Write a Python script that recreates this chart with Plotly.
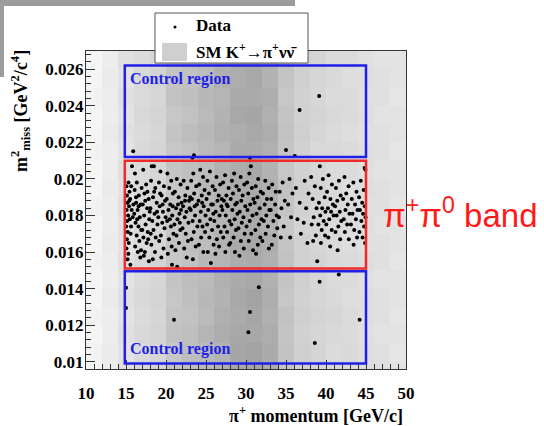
import plotly.graph_objects as go

# ---- SM K+ -> pi+ nu nubar expectation (2 GeV/c x 0.001 GeV^2/c^4 bins) ----
p_edges = [10, 12, 14, 16, 18, 20, 22, 24, 26, 28, 30, 32, 34, 36, 38, 40, 42, 44, 46, 48, 50]
m2_edges = [0.009, 0.010, 0.011, 0.012, 0.013, 0.014, 0.015, 0.016, 0.017, 0.018,
            0.019, 0.020, 0.021, 0.022, 0.023, 0.024, 0.025, 0.026, 0.027]
sm_counts = [
    [4, 7, 12, 15, 17, 23, 25, 28, 31, 34, 35, 32, 23, 18, 16, 15, 14, 13, 12, 11],
    [5, 8, 11, 14, 16, 22, 26, 27, 30, 35, 36, 33, 24, 19, 17, 14, 15, 13, 12, 10],
    [4, 7, 12, 15, 17, 24, 25, 29, 32, 34, 34, 32, 23, 18, 16, 15, 14, 12, 11, 11],
    [5, 7, 11, 14, 16, 23, 24, 27, 31, 33, 35, 31, 24, 19, 17, 16, 14, 13, 12, 10],
    [4, 8, 12, 15, 17, 22, 25, 28, 30, 34, 36, 32, 22, 18, 16, 15, 13, 13, 12, 11],
    [4, 7, 11, 14, 16, 23, 26, 27, 31, 33, 34, 31, 23, 19, 16, 14, 14, 12, 11, 11],
    [5, 7, 12, 15, 17, 22, 24, 28, 29, 32, 33, 31, 24, 18, 17, 15, 14, 13, 12, 10],
    [4, 8, 11, 14, 16, 23, 25, 26, 30, 33, 34, 32, 23, 18, 16, 15, 13, 12, 12, 11],
    [4, 7, 11, 15, 16, 22, 24, 27, 29, 32, 33, 30, 22, 17, 16, 14, 14, 13, 11, 11],
    [5, 7, 12, 14, 17, 23, 25, 27, 30, 32, 34, 31, 23, 18, 16, 15, 14, 12, 12, 10],
    [4, 8, 11, 15, 16, 22, 24, 28, 29, 33, 33, 31, 24, 19, 17, 15, 13, 13, 12, 11],
    [4, 7, 12, 14, 16, 23, 25, 26, 30, 32, 34, 30, 22, 18, 16, 14, 14, 12, 11, 11],
    [5, 7, 11, 15, 17, 22, 24, 27, 29, 33, 33, 31, 23, 18, 15, 15, 14, 13, 12, 10],
    [4, 8, 12, 14, 16, 23, 26, 28, 31, 32, 34, 32, 24, 19, 16, 14, 13, 12, 12, 11],
    [4, 7, 11, 15, 17, 22, 24, 27, 30, 34, 35, 31, 23, 18, 17, 15, 14, 13, 11, 11],
    [5, 7, 12, 14, 16, 24, 25, 28, 29, 33, 33, 32, 22, 18, 16, 14, 14, 12, 12, 10],
    [4, 8, 11, 15, 17, 23, 24, 26, 31, 32, 34, 30, 23, 19, 16, 15, 13, 13, 12, 11],
    [4, 7, 12, 14, 16, 22, 25, 27, 30, 33, 33, 31, 24, 18, 17, 14, 14, 12, 11, 11],
]

# ---- Data events: pi+ momentum [GeV/c] and m2_miss [GeV^2/c^4] ----
data_p = [
    # upper control region
    39.15, 36.7, 15.9, 35.0, 36.1, 23.5, 23.3, 30.5,
    # lower control region
    15.0, 15.0, 21.0, 31.6, 30.5, 30.3, 39.2, 41.6, 44.2, 38.6,
    # pi+ pi0 band
    15.05, 15.12, 15.31, 15.18, 15.44, 15.08, 15.27, 15.52, 15.15, 15.38, 15.71, 15.02, 15.22, 15.47,
    15.63, 15.11, 15.35, 15.58, 15.06, 15.29, 15.84, 15.41, 15.19, 15.66, 15.93, 15.55, 15.75,
    16.12, 16.35, 16.08, 16.61, 16.27, 16.84, 16.45, 16.03, 16.72, 16.19, 16.56, 16.91, 16.33, 16.67,
    16.14, 16.48, 16.79, 16.25, 16.95, 16.40, 16.58, 16.88,
    17.15, 17.52, 17.31, 17.83, 17.09, 17.64, 17.27, 17.91, 17.45, 17.72, 17.18, 17.58, 17.36, 17.86,
    17.04, 17.68, 17.41, 17.97, 17.23, 17.77,
    18.22, 18.49, 18.13, 18.66, 18.38, 18.84, 18.05, 18.57, 18.29, 18.93, 18.44, 18.71, 18.17, 18.62,
    18.35, 18.88, 18.52, 18.09,
    19.31, 19.12, 19.74, 19.45, 19.88, 19.21, 19.62, 19.04, 19.53, 19.81, 19.36, 19.15, 19.69, 19.42,
    19.95, 19.27, 19.58,
    20.18, 20.66, 20.41, 20.87, 20.09, 20.54, 20.31, 20.78, 20.14, 20.62, 20.93, 20.37, 20.71, 20.23,
    20.75, 20.48, 20.85,
    21.35, 21.82, 21.11, 21.57, 21.94, 21.26, 21.68, 21.43, 21.05, 21.79, 21.31, 21.62, 21.18, 21.40,
    21.88, 21.50, 21.73,
    22.21, 22.68, 22.42, 22.89, 22.13, 22.55, 22.34, 22.81, 22.06, 22.47, 22.74, 22.27, 22.59, 22.95,
    22.38,
    23.41, 23.15, 23.77, 23.52, 23.24, 23.86, 23.09, 23.63, 23.33, 23.92, 23.48, 23.19, 23.71, 23.36,
    23.58, 23.02,
    24.28, 24.63, 24.15, 24.82, 24.47, 24.06, 24.71, 24.35, 24.94, 24.21, 24.56, 24.88, 24.39, 24.12,
    24.67, 24.52,
    25.49, 25.18, 25.83, 25.37, 25.07, 25.66, 25.28, 25.91, 25.55, 25.14, 25.76, 25.42, 25.95, 25.23,
    25.61, 25.86,
    26.31, 26.77, 26.12, 26.58, 26.43, 26.92, 26.21, 26.69, 26.04, 26.51, 26.85, 26.36, 26.63, 26.18,
    26.97,
    27.38, 27.13, 27.82, 27.55, 27.24, 27.71, 27.05, 27.47, 27.93, 27.31, 27.64, 27.16, 27.88, 27.42,
    27.59,
    28.52, 28.24, 28.81, 28.37, 28.09, 28.66, 28.29, 28.93, 28.58, 28.16, 28.74, 28.45, 28.04, 28.62,
    28.87,
    29.33, 29.79, 29.12, 29.58, 29.41, 29.91, 29.22, 29.68, 29.47, 29.05, 29.83, 29.36, 29.72, 29.18,
    30.61, 30.42, 30.14, 30.73, 30.28, 30.92, 30.53, 30.19, 30.81, 30.46, 30.07, 30.66, 30.34, 30.88,
    31.52, 31.21, 31.84, 31.43, 31.08, 31.71, 31.32, 31.94, 31.61, 31.17, 31.79, 31.48, 31.26,
    32.41, 32.83, 32.12, 32.62, 32.33, 32.91, 32.54, 32.22, 32.74, 32.45, 32.05, 32.86,
    33.28, 33.72, 33.16, 33.64, 33.09, 33.83, 33.42, 33.91, 33.54, 33.23,
    34.58, 34.21, 34.84, 34.43, 34.12, 34.71, 34.35,
    35.44, 35.81, 35.27, 35.63, 35.52,
    36.24, 36.71, 36.43, 36.86,
    37.33, 37.82, 37.51, 37.22, 37.68,
    38.14, 38.61, 38.33, 38.82, 38.47, 38.21, 38.73, 38.39, 38.91,
    39.23, 39.61, 39.34, 39.84, 39.12, 39.52, 39.93, 39.28, 39.71, 39.05, 39.46, 39.88, 39.37,
    40.32, 40.74, 40.13, 40.55, 40.86, 40.24, 40.63, 40.95, 40.41, 40.04, 40.71, 40.29, 40.52,
    41.62, 41.24, 41.83, 41.41, 41.13, 41.72, 41.33, 41.91, 41.54, 41.19, 41.77, 41.45,
    42.31, 42.82, 42.53, 42.14, 42.72, 42.43, 42.93, 42.22, 42.64, 42.36, 42.85,
    43.42, 43.81, 43.22, 43.63, 43.94, 43.31, 43.74, 43.12, 43.53, 43.88, 43.45,
    44.82, 44.93, 44.34, 44.71, 44.13, 44.52, 44.85, 44.24, 44.63, 44.94, 44.42, 44.76, 44.18, 44.57,
    44.88,
]
data_m2 = [
    0.02454, 0.02377, 0.02152, 0.02158, 0.02125, 0.02129, 0.02116, 0.02116,
    0.01404, 0.01294, 0.01230, 0.01407, 0.01272, 0.01161, 0.01438, 0.01477, 0.01230, 0.01102,
    0.0196, 0.0191, 0.0198, 0.0187, 0.0193, 0.0183, 0.0180, 0.0189, 0.0177, 0.0185, 0.0183, 0.0174, 0.0171, 0.0178,
    0.0174, 0.0167, 0.0165, 0.0170, 0.0162, 0.0159, 0.0179, 0.0188, 0.0156, 0.0196, 0.0186, 0.0153, 0.0207,
    0.0203, 0.0198, 0.0194, 0.0191, 0.0187, 0.0186, 0.0183, 0.0181, 0.0179, 0.0176, 0.0174, 0.0172, 0.0169, 0.0166,
    0.0163, 0.0160, 0.0157, 0.0190, 0.0195, 0.0178, 0.0185, 0.0161,
    0.0205, 0.0197, 0.0192, 0.0189, 0.0186, 0.0184, 0.0180, 0.0178, 0.0175, 0.0171, 0.0168, 0.0165, 0.0160, 0.0155,
    0.0172, 0.0193, 0.0188, 0.0182, 0.0158, 0.0167,
    0.0207, 0.0207, 0.0199, 0.0195, 0.0190, 0.0187, 0.0184, 0.0181, 0.0177, 0.0175, 0.0172, 0.0168, 0.0164, 0.0160,
    0.0156, 0.0182, 0.0193, 0.0170,
    0.0204, 0.0198, 0.0196, 0.0191, 0.0188, 0.0185, 0.0182, 0.0179, 0.0176, 0.0173, 0.0169, 0.0166, 0.0162, 0.0157,
    0.0179, 0.0192, 0.0186,
    0.0203, 0.0199, 0.0195, 0.0192, 0.0189, 0.0186, 0.0183, 0.0180, 0.0177, 0.0174, 0.0170, 0.0167, 0.0163, 0.0159,
    0.0153, 0.0178, 0.0185,
    0.0200, 0.0197, 0.0193, 0.0190, 0.0187, 0.0184, 0.0181, 0.0178, 0.0175, 0.0172, 0.0169, 0.0165, 0.0161, 0.0152,
    0.0183, 0.0186, 0.0176,
    0.0199, 0.0195, 0.0191, 0.0188, 0.0185, 0.0182, 0.0179, 0.0176, 0.0173, 0.0170, 0.0166, 0.0162, 0.0157, 0.0184,
    0.0188,
    0.0203, 0.0199, 0.0196, 0.0192, 0.0189, 0.0186, 0.0183, 0.0180, 0.0177, 0.0174, 0.0171, 0.0167, 0.0163, 0.0156,
    0.0185, 0.0190,
    0.0205, 0.0201, 0.0197, 0.0194, 0.0191, 0.0188, 0.0185, 0.0182, 0.0180, 0.0177, 0.0174, 0.0171, 0.0168, 0.0164,
    0.0160, 0.0187,
    0.0204, 0.0199, 0.0196, 0.0192, 0.0189, 0.0186, 0.0183, 0.0181, 0.0178, 0.0175, 0.0172, 0.0168, 0.0164, 0.0160,
    0.0154, 0.0186,
    0.0201, 0.0197, 0.0194, 0.0191, 0.0188, 0.0185, 0.0182, 0.0180, 0.0177, 0.0174, 0.0171, 0.0167, 0.0163, 0.0159,
    0.0189,
    0.0202, 0.0198, 0.0195, 0.0191, 0.0188, 0.0185, 0.0183, 0.0180, 0.0177, 0.0174, 0.0171, 0.0168, 0.0164, 0.0160,
    0.0186,
    0.0203, 0.0199, 0.0196, 0.0192, 0.0189, 0.0186, 0.0183, 0.0181, 0.0178, 0.0175, 0.0172, 0.0168, 0.0165, 0.0160,
    0.0187,
    0.0201, 0.0197, 0.0194, 0.0191, 0.0188, 0.0185, 0.0182, 0.0179, 0.0176, 0.0173, 0.0170, 0.0166, 0.0162, 0.0158,
    0.0207, 0.0203, 0.0198, 0.0195, 0.0192, 0.0189, 0.0186, 0.0183, 0.0180, 0.0177, 0.0174, 0.0170, 0.0166, 0.0161,
    0.0200, 0.0196, 0.0193, 0.0190, 0.0187, 0.0184, 0.0181, 0.0178, 0.0175, 0.0172, 0.0168, 0.0164, 0.0159,
    0.0199, 0.0195, 0.0192, 0.0189, 0.0186, 0.0183, 0.0180, 0.0177, 0.0174, 0.0170, 0.0166, 0.0162,
    0.0197, 0.0193, 0.0189, 0.0186, 0.0183, 0.0180, 0.0177, 0.0173, 0.0169, 0.0164,
    0.0198, 0.0193, 0.0188, 0.0184, 0.0179, 0.0174, 0.0168,
    0.0200, 0.0192, 0.0186, 0.0179, 0.0168,
    0.0195, 0.0187, 0.0178, 0.0170,
    0.0199, 0.0192, 0.0184, 0.0176, 0.0165,
    0.0201, 0.0196, 0.0189, 0.0184, 0.0179, 0.0175, 0.0169, 0.0166, 0.0155,
    0.0207, 0.0200, 0.0195, 0.0190, 0.0187, 0.0184, 0.0182, 0.0180, 0.0177, 0.0175, 0.0172, 0.0169, 0.0165,
    0.0202, 0.0197, 0.0193, 0.0189, 0.0186, 0.0184, 0.0182, 0.0180, 0.0178, 0.0175, 0.0172, 0.0168, 0.0163,
    0.0199, 0.0195, 0.0191, 0.0188, 0.0185, 0.0182, 0.0180, 0.0177, 0.0174, 0.0171, 0.0167, 0.0161,
    0.0201, 0.0196, 0.0192, 0.0189, 0.0186, 0.0183, 0.0181, 0.0178, 0.0175, 0.0171, 0.0167,
    0.0198, 0.0193, 0.0189, 0.0186, 0.0183, 0.0181, 0.0178, 0.0175, 0.0172, 0.0168, 0.0164,
    0.0206, 0.0205, 0.0199, 0.0194, 0.0190, 0.0187, 0.0185, 0.0183, 0.0181, 0.0179, 0.0177, 0.0174, 0.0171, 0.0168,
    0.0165,
]

# ---- analysis regions ----
region_p = [14.85, 45.0]
upper_control = [0.0212, 0.0262]
band = [0.0151, 0.0210]
lower_control = [0.0099, 0.01495]

x_ticks = [10, 15, 20, 25, 30, 35, 40, 45, 50]
y_ticks = [0.010, 0.012, 0.014, 0.016, 0.018, 0.020, 0.022, 0.024, 0.026]
y_tick_text = ["0.01", "0.012", "0.014", "0.016", "0.018", "0.02", "0.022", "0.024", "0.026"]

p_centers = [(a + b) / 2 for a, b in zip(p_edges[:-1], p_edges[1:])]
m2_centers = [(a + b) / 2 for a, b in zip(m2_edges[:-1], m2_edges[1:])]

SERIF = "Liberation Serif, Times New Roman, serif"
W, H = 544, 426
L, R, T, B = 86, 138, 51, 57

fig = go.Figure()
fig.add_trace(go.Heatmap(
    x=p_centers, y=m2_centers, z=sm_counts,
    colorscale=[[0, "#ffffff"], [1, "#000000"]],
    zmin=0, zmax=100, showscale=False, hoverinfo="skip",
))
fig.add_trace(go.Scatter(
    x=data_p, y=data_m2, mode="markers",
    marker=dict(color="black", size=4), showlegend=False,
))

def box(y_pair, color):
    fig.add_shape(type="rect", xref="x", yref="y",
                  x0=region_p[0], x1=region_p[1], y0=y_pair[0], y1=y_pair[1],
                  line=dict(color=color, width=2.5))

box(upper_control, "#1f1fe6")
box(lower_control, "#1f1fe6")
box(band, "#ee2a2a")

# helpers to place decorations in pixel terms on the page
pw, ph = W - L - R, H - T - B
def px(xp):
    return (xp - L) / pw
def py(yp):
    return (H - B - yp) / ph

# legend
fig.add_shape(type="rect", xref="paper", yref="paper", x0=px(155), x1=px(308), y0=py(63), y1=py(13),
              line=dict(color="#555", width=1), fillcolor="white", layer="above")
fig.add_shape(type="rect", xref="paper", yref="paper", x0=px(162), x1=px(187), y0=py(61), y1=py(43),
              line=dict(width=0), fillcolor="#cfcfcf", layer="above")
fig.add_shape(type="circle", xref="paper", yref="paper", x0=px(173.5), x1=px(176.5), y0=py(28.5), y1=py(25.5),
              line=dict(width=0), fillcolor="black", layer="above")
fig.add_annotation(xref="paper", yref="paper", x=px(194), y=py(26), xanchor="left", yanchor="middle",
                   text="<b>Data</b>", showarrow=False, font=dict(family=SERIF, size=17, color="black"))
fig.add_annotation(xref="paper", yref="paper", x=px(194), y=py(51), xanchor="left", yanchor="middle",
                   text="<b>SM K<sup>+</sup>→π<sup>+</sup>νν\u0304</b>", showarrow=False,
                   font=dict(family=SERIF, size=17, color="black"))

# region labels
fig.add_annotation(x=15.3, y=0.02605, xref="x", yref="y", xanchor="left", yanchor="top",
                   text="<b>Control region</b>", showarrow=False, font=dict(family=SERIF, size=16, color="#1f1fe6"))
fig.add_annotation(x=15.3, y=0.01010, xref="x", yref="y", xanchor="left", yanchor="bottom",
                   text="<b>Control region</b>", showarrow=False, font=dict(family=SERIF, size=16, color="#1f1fe6"))
fig.add_annotation(xref="paper", yref="paper", x=px(381), y=py(213), xanchor="left", yanchor="middle",
                   text="π<sup>+</sup>π<sup>0</sup> band", showarrow=False,
                   font=dict(family="Liberation Sans, Arial, sans-serif", size=33, color="#ff1a1a"))

# axis titles
fig.add_annotation(xref="paper", yref="paper", x=px(405), y=py(414), xanchor="right", yanchor="middle",
                   text="<b>π<sup>+</sup> momentum [GeV/c]</b>", showarrow=False,
                   font=dict(family=SERIF, size=18, color="black"))
fig.add_annotation(xref="paper", yref="paper", x=px(21), y=py(48), xanchor="center", yanchor="top",
                   textangle=-90, text="<b>m<sup>2</sup><sub>miss</sub> [GeV<sup>2</sup>/c<sup>4</sup>]</b>",
                   showarrow=False, font=dict(family=SERIF, size=18, color="black"))

# slide frame strip
fig.add_shape(type="rect", xref="paper", yref="paper", x0=px(0), x1=px(295), y0=py(6), y1=py(0),
              line=dict(width=0), fillcolor="#9c9c9c", layer="above")
fig.add_shape(type="rect", xref="paper", yref="paper", x0=px(0), x1=px(4), y0=py(77), y1=py(0),
              line=dict(width=0), fillcolor="#9c9c9c", layer="above")

axis_font = dict(family=SERIF, size=17, color="black", weight="bold")
fig.update_xaxes(range=[10, 50], tickvals=x_ticks, ticks="inside", ticklen=9, tickcolor="#333",
                 showline=True, linecolor="#333", linewidth=1, mirror=True, showgrid=False, zeroline=False,
                 tickfont=axis_font, ticklabelstandoff=9,
                 minor=dict(ticks="inside", ticklen=5, tickcolor="#333", dtick=1, tick0=10, showgrid=False))
fig.update_yaxes(range=[0.0096, 0.027], tickvals=y_ticks, ticktext=y_tick_text, ticks="inside", ticklen=9,
                 tickcolor="#333", showline=True, linecolor="#333", linewidth=1, mirror=True, showgrid=False,
                 zeroline=False, tickfont=axis_font, ticklabelstandoff=-2,
                 minor=dict(ticks="inside", ticklen=5, tickcolor="#333", dtick=0.0004, tick0=0.01, showgrid=False))

fig.update_layout(width=W, height=H, margin=dict(l=L, r=R, t=T, b=B),
                  paper_bgcolor="white", plot_bgcolor="white", showlegend=False)

fig.write_html("out.html")
